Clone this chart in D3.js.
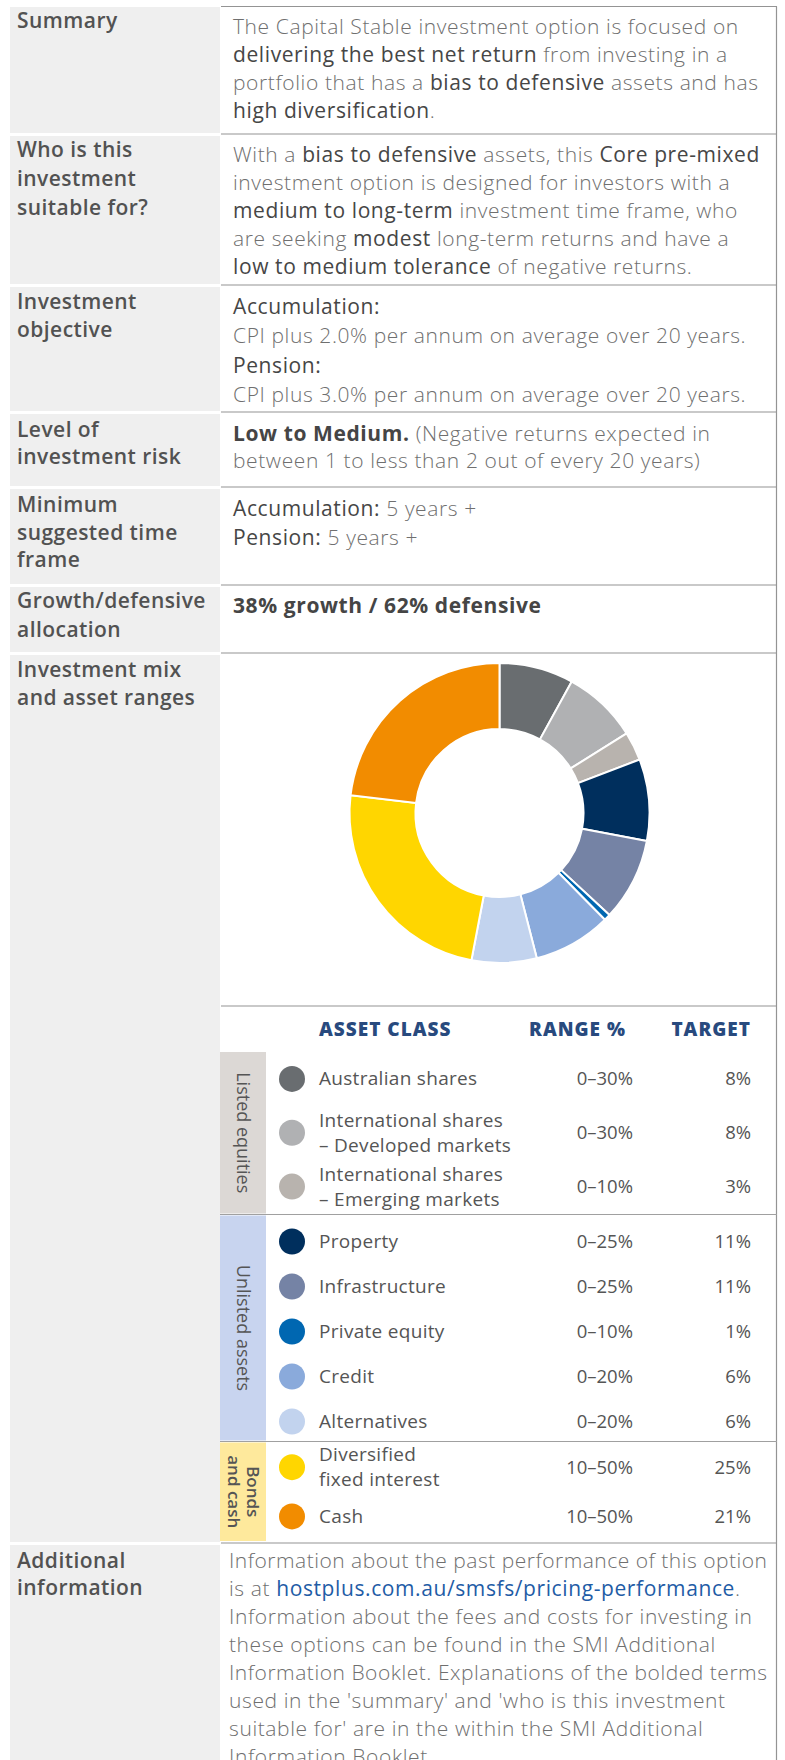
<!DOCTYPE html>
<html><head><meta charset="utf-8">
<script src="https://cdn.jsdelivr.net/npm/d3@7"></script>
<style>
html,body{margin:0;padding:0;background:#fff;}
svg{display:block;}
</style></head>
<body>
<svg id="chart" width="785" height="1760"></svg>
<script>
// ---------- DATA ----------
const rowLabels = [
  ["Summary"],
  ["Who is this", "investment", "suitable for?"],
  ["Investment", "objective"],
  ["Level of", "investment risk"],
  ["Minimum", "suggested time", "frame"],
  ["Growth/defensive", "allocation"],
  ["Investment mix", "and asset ranges"],
  ["Additional", "information"]
];
// markup: *x* = emphasised term, #x# = strong, [x] = link
const rowTexts = [
  ["The Capital Stable investment option is focused on",
   "*delivering the best net return* from investing in a",
   "portfolio that has a *bias to defensive* assets and has",
   "*high diversification*."],
  ["With a *bias to defensive* assets, this *Core pre-mixed*",
   "investment option is designed for investors with a",
   "*medium to long-term* investment time frame, who",
   "are seeking *modest* long-term returns and have a",
   "*low to medium tolerance* of negative returns."],
  ["*Accumulation:*",
   "CPI plus 2.0% per annum on average over 20 years.",
   "*Pension:*",
   "CPI plus 3.0% per annum on average over 20 years."],
  ["#Low to Medium.# (Negative returns expected in",
   "between 1 to less than 2 out of every 20 years)"],
  ["*Accumulation:* 5 years +",
   "*Pension:* 5 years +"],
  ["#38% growth / 62% defensive#"],
  [],
  ["Information about the past performance of this option",
   "is at [hostplus.com.au/smsfs/pricing-performance].",
   "Information about the fees and costs for investing in",
   "these options can be found in the SMI Additional",
   "Information Booklet. Explanations of the bolded terms",
   "used in the 'summary' and 'who is this investment",
   "suitable for' are in the within the SMI Additional",
   "Information Booklet."]
];

const assetClasses = [
  ["Australian shares"],
  ["International shares", "– Developed markets"],
  ["International shares", "– Emerging markets"],
  ["Property"],
  ["Infrastructure"],
  ["Private equity"],
  ["Credit"],
  ["Alternatives"],
  ["Diversified", "fixed interest"],
  ["Cash"]
];
const assetGroup = [0, 0, 0, 1, 1, 1, 1, 1, 2, 2];
const rangeLabels = ["0–30%", "0–30%", "0–10%", "0–25%", "0–25%", "0–10%", "0–20%", "0–20%", "10–50%", "10–50%"];
const targetValues = [8, 8, 3, 11, 11, 1, 6, 6, 25, 21];
// slice shares as drawn in the doughnut
const donutShares = [8.0, 8.1, 3.1, 8.8, 8.9, 0.7, 8.4, 7.0, 23.9, 23.1];
const assetColours = ["#696d70", "#b0b1b3", "#b8b3ae", "#002f5d", "#7583a5", "#0067b1", "#8aaadb", "#c2d3ee", "#ffd600", "#f28c00"];
const groupNames = [["Listed equities"], ["Unlisted assets"], ["Bonds", "and cash"]];
const groupColours = ["#dcd8d5", "#c8d4ef", "#fee99c"];
const legendHeaders = ["ASSET CLASS", "RANGE %", "TARGET"];

// ---------- LAYOUT ----------
const W = 785, H = 1760;
const leftX = 10, splitX = 221, rightX = 776.5;
const seps = [6.5, 134, 285, 412, 487, 585, 653, 1543];
const labelFirst = [28, 157.3, 309, 436.7, 511.7, 608.3, 676.7, 1567.7];
const labelStep = [28.5, 29, 28, 27.5, 27.8, 28.4, 28.3, 27.5];
const textFirst = [33.5, 162, 314, 440.7, 516, 613.3, 0, 1567.7];
const textStep = [28, 28, 29.3, 27.7, 29, 28, 28, 28.1];
const textX = [233, 233, 233, 233, 233, 233, 233, 229];

const svg = d3.select("#chart");
const font = "'Open Sans', 'Noto Sans', sans-serif";

// left grey cells
seps.forEach((s, i) => {
  const top = i === 0 ? 7 : s + 2;
  const bot = i < seps.length - 1 ? seps[i + 1] - 1 : H;
  svg.append("rect").attr("x", leftX).attr("y", top).attr("width", splitX - 1 - leftX).attr("height", bot - top).attr("fill", "#efefef");
});

// right-column row lines
seps.forEach(s => {
  svg.append("line").attr("x1", splitX).attr("x2", rightX + 0.5).attr("y1", s).attr("y2", s)
    .attr("stroke", "#949494").attr("stroke-width", 1.2);
});
svg.append("line").attr("x1", rightX).attr("x2", rightX).attr("y1", seps[0]).attr("y2", H)
  .attr("stroke", "#949494").attr("stroke-width", 1.2);

// labels
rowLabels.forEach((lines, i) => {
  const t = svg.append("text").attr("font-family", font).attr("font-size", 21).attr("font-weight", 600)
    .attr("letter-spacing", 0.45).attr("fill", "#525252");
  lines.forEach((l, j) => t.append("tspan").attr("x", 17).attr("y", labelFirst[i] + j * labelStep[i]).text(l));
});

// body text
function parseLine(str) {
  const re = /(\*[^*]+\*|#[^#]+#|\[[^\]]+\])/g;
  const parts = [];
  let last = 0, m;
  while ((m = re.exec(str))) {
    if (m.index > last) parts.push({ t: str.slice(last, m.index), k: "n" });
    const tok = m[0];
    parts.push({ t: tok.slice(1, -1), k: tok[0] === "*" ? "b" : tok[0] === "#" ? "s" : "l" });
    last = m.index + tok.length;
  }
  if (last < str.length) parts.push({ t: str.slice(last), k: "n" });
  return parts;
}
const styles = {
  n: { w: 300, c: "#6f6f6f" },
  b: { w: 500, c: "#464646" },
  s: { w: 700, c: "#454545" },
  l: { w: 500, c: "#1f5ca6" }
};
const bodyLS = 0.6;
rowTexts.forEach((lines, i) => {
  lines.forEach((l, j) => {
    const x = textX[i];
    const t = svg.append("text").attr("x", x).attr("y", textFirst[i] + j * textStep[i])
      .attr("font-family", font).attr("font-size", 21).attr("letter-spacing", bodyLS).attr("xml:space", "preserve");
    parseLine(l).forEach(p => {
      t.append("tspan").attr("font-weight", styles[p.k].w).attr("fill", styles[p.k].c).text(p.t);
    });
    // keep each line inside its cell
    const maxW = rightX - x - 9;
    const w = t.node().getComputedTextLength();
    if (w > maxW) {
      const n = l.replace(/[*#\[\]]/g, "").length;
      t.attr("letter-spacing", bodyLS - (w - maxW) / n);
    }
  });
});

// ---------- DOUGHNUT ----------
const cx = 499.5, cy = 813, R = 150, r0 = 84;
const pie = d3.pie().sort(null).value(d => d)(donutShares);
const arc = d3.arc().innerRadius(r0).outerRadius(R);
svg.append("g").attr("transform", `translate(${cx},${cy})`)
  .selectAll("path").data(pie).join("path")
  .attr("d", arc).attr("fill", (d, i) => assetColours[i])
  .attr("stroke", "#fff").attr("stroke-width", 2).attr("stroke-linejoin", "miter");

// line under doughnut
svg.append("line").attr("x1", splitX).attr("x2", rightX + 0.5).attr("y1", 1006).attr("y2", 1006)
  .attr("stroke", "#949494").attr("stroke-width", 1.2);

// ---------- LEGEND TABLE ----------
const colName = 319, colRange = 633, colTarget = 751, dotX = 292;
const headerY = 1036;
[[legendHeaders[0], colName, "start"], [legendHeaders[1], 626, "end"], [legendHeaders[2], colTarget, "end"]].forEach(([txt, x, a]) => {
  svg.append("text").attr("x", x).attr("y", headerY).attr("text-anchor", a)
    .attr("font-family", font).attr("font-size", 19).attr("font-weight", 800)
    .attr("letter-spacing", 1.0).attr("fill", "#284a7e").text(txt);
});

const bandX = 220, bandW = 46;
const groupBounds = [[1052, 1213.5], [1215.5, 1440.5], [1442.5, 1541]];
const rowCenters = [];
groupBounds.forEach(([g0, g1], gi) => {
  const idx = assetGroup.map((g, k) => g === gi ? k : -1).filter(k => k >= 0);
  const y = d3.scaleBand().domain(idx).range([g0, g1]);
  idx.forEach(k => rowCenters[k] = y(k) + y.bandwidth() / 2 + (gi === 1 ? 3.5 : 0));
  svg.append("rect").attr("x", bandX).attr("y", g0).attr("width", bandW).attr("height", g1 - g0).attr("fill", groupColours[gi]);
  const mid = (g0 + g1) / 2;
  const gt = svg.append("text").attr("transform", `translate(${bandX + bandW / 2},${mid}) rotate(90)`)
    .attr("text-anchor", "middle").attr("font-family", font)
    .attr("font-size", gi === 2 ? 17 : 18).attr("font-weight", gi === 2 ? 600 : 400).attr("fill", "#555");
  const lines = groupNames[gi];
  lines.forEach((l, j) => gt.append("tspan").attr("x", 0).attr("y", (j - (lines.length - 1) / 2) * 19 + 6).text(l));
});
[groupBounds[0][1] + 1, groupBounds[1][1] + 1].forEach(y => {
  svg.append("line").attr("x1", bandX).attr("x2", rightX + 0.5).attr("y1", y).attr("y2", y)
    .attr("stroke", "#a0a0a0").attr("stroke-width", 1.2);
});

assetClasses.forEach((lines, k) => {
  const c = rowCenters[k];
  svg.append("circle").attr("cx", dotX).attr("cy", c).attr("r", 13).attr("fill", assetColours[k]);
  const t = svg.append("text").attr("font-family", font).attr("font-size", 19).attr("letter-spacing", 0.3).attr("fill", "#555");
  lines.forEach((l, j) => t.append("tspan").attr("x", colName).attr("y", c + 6.5 + (j - (lines.length - 1) / 2) * 25).text(l));
  svg.append("text").attr("x", colRange).attr("y", c + 6.5).attr("text-anchor", "end")
    .attr("font-family", font).attr("font-size", 18.5).attr("fill", "#555").text(rangeLabels[k]);
  svg.append("text").attr("x", colTarget).attr("y", c + 6.5).attr("text-anchor", "end")
    .attr("font-family", font).attr("font-size", 18.5).attr("fill", "#555").text(targetValues[k] + "%");
});
</script>
</body></html>
